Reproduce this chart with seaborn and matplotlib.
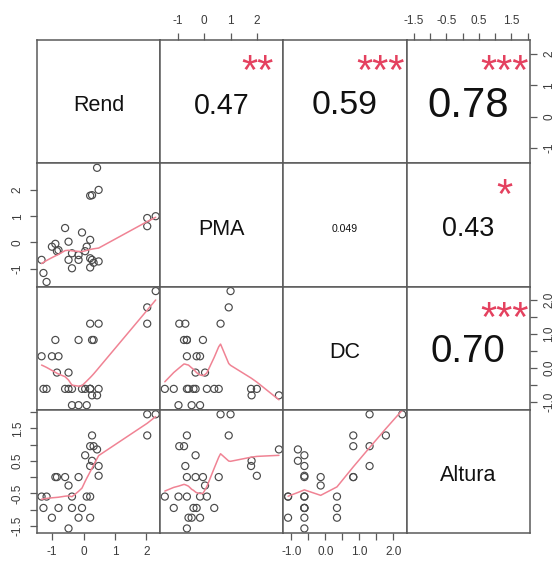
import numpy as np
import pandas as pd
import matplotlib
matplotlib.use("Agg")
import matplotlib.pyplot as plt
import seaborn as sns

# Standardised trait values, one entry per plot
variables = ["Rend", "PMA", "DC", "Altura"]
rend = [2.30, 2.03, 2.03, 0.27, 0.21, 0.32, 0.43, 0.05, 0.27, 0.48,
        0.21, -0.90, -0.85, -0.59, -0.16, 0.48, -0.48, -1.34, -1.18, -0.37,
        0.10, 0.21, -1.28, -0.80, -0.37, -0.05, -1.01, -0.16, 0.21, -0.48]
pma = [1.00, 0.62, 0.93, -0.66, -0.95, -0.77, 2.84, -0.33, 1.80, -0.72,
       1.78, -0.05, -0.33, 0.55, -0.66, 2.00, 0.03, -0.66, -1.50, -0.98,
       -0.16, 0.10, -1.16, -0.29, -0.41, 0.38, -0.16, -0.48, -0.60, -0.66]
dc = [2.26, 1.30, 1.78, 0.82, 1.30, 0.82, -0.81, -0.62, -0.81, 1.30,
      -0.62, 0.82, -0.14, -0.62, 0.82, -0.62, -0.14, 0.34, -0.62, -1.10,
      -1.10, -0.62, -0.62, 0.34, -0.62, -0.62, 0.34, -1.10, -0.62, -0.62]
altura = [1.93, 1.93, 1.28, 1.28, 0.95, 0.95, 0.85, 0.67, 0.50, 0.34,
          0.34, 0.00, 0.00, 0.00, 0.00, 0.04, -0.26, -0.60, -0.60, -0.60,
          -0.60, -0.60, -0.95, -0.95, -0.95, -0.95, -1.25, -1.25, -1.25, -1.58]

# Pearson correlations (upper triangle, row-wise) and significance codes
corr_pairs = [(0, 1), (0, 2), (0, 3), (1, 2), (1, 3), (2, 3)]
corr_values = [0.47, 0.59, 0.78, 0.049, 0.43, 0.70]
corr_labels = ["0.47", "0.59", "0.78", "0.049", "0.43", "0.70"]
corr_stars = ["**", "***", "***", "", "*", "***"]

# Axis ticks per variable
tick_values = {
    "Rend": [-1, 0, 1, 2],
    "PMA": [-1, 0, 1, 2],
    "DC": [-1.0, -0.5, 0.0, 0.5, 1.0, 1.5, 2.0],
    "Altura": [-1.5, -1.0, -0.5, 0.0, 0.5, 1.0, 1.5, 2.0],
}
tick_labels = {
    "Rend": ["-1", "0", "1", "2"],
    "PMA": ["-1", "0", "1", "2"],
    "DC": ["-1.0", "", "0.0", "", "1.0", "", "2.0"],
    "Altura": ["-1.5", "", "-0.5", "", "0.5", "", "1.5", ""],
}

df = pd.DataFrame({"Rend": rend, "PMA": pma, "DC": dc, "Altura": altura})


def lowess(x, y, f=2 / 3, iters=3):
    """Locally weighted scatterplot smoothing (Cleveland, as in R's lowess)."""
    order = np.argsort(x, kind="mergesort")
    x = np.asarray(x, float)[order]
    y = np.asarray(y, float)[order]
    n = len(x)
    ns = max(min(int(round(f * n)), n), 2)
    rw = np.ones(n)
    ys = np.zeros(n)
    xrange = x[-1] - x[0]
    for it in range(iters + 1):
        for i in range(n):
            d = np.abs(x - x[i])
            h = np.sort(d)[ns - 1]
            if h > 0:
                u = d / h
                w = np.where(d <= 0.999 * h, (1 - u ** 3) ** 3, 0.0)
                w = np.where(d <= 0.001 * h, 1.0, w)
            else:
                w = (d == 0).astype(float)
            w = w * rw
            if w.sum() <= 0:
                ys[i] = y[i]
                continue
            w = w / w.sum()
            if h > 0:
                a = np.sum(w * x)
                c = np.sum(w * (x - a) ** 2)
                if np.sqrt(c) > 0.001 * xrange:
                    b = (x[i] - a) / c
                    w = w * (b * (x - a) + 1)
            ys[i] = np.sum(w * y)
        if it == iters:
            break
        res = np.abs(y - ys)
        cmad = 6 * np.median(res)
        if cmad < 1e-7 * np.mean(np.abs(y)):
            break
        rw = np.where(res <= 0.999 * cmad, (1 - (res / cmad) ** 2) ** 2, 0.0)
        rw = np.where(res <= 0.001 * cmad, 1.0, rw)
    return x, ys


sns.set_theme(style="white")
plt.rcParams["font.family"] = ["Liberation Sans", "DejaVu Sans"]

frame_color = "#5a5a5a"
point_color = "#4a4a4a"
smooth_color = "#f08394"
star_color = "#e4415f"
tick_label_color = "#3a3a3a"
text_y = 0.465

W, H = 556, 563
fig, axes = plt.subplots(
    4, 4, figsize=(W / 100, H / 100), dpi=100,
    gridspec_kw=dict(left=37 / W, right=530 / W, bottom=1 - 533 / H,
                     top=1 - 40 / H, wspace=0, hspace=0),
)

lims = {}
for v in variables:
    lo, hi = df[v].min(), df[v].max()
    pad = 0.04 * (hi - lo)
    lims[v] = (lo - pad, hi + pad)

corr_lookup = {p: k for k, p in enumerate(corr_pairs)}

for i, vy in enumerate(variables):
    for j, vx in enumerate(variables):
        ax = axes[i][j]
        ax.set_xlim(lims[vx])
        ax.set_ylim(lims[vy])
        ax.set_xticks([])
        ax.set_yticks([])
        ax.set_xlabel("")
        ax.set_ylabel("")
        for sp in ax.spines.values():
            sp.set_color(frame_color)
            sp.set_linewidth(1.1)

        if i == j:
            ax.text(0.5, text_y, vx, transform=ax.transAxes, ha="center",
                    va="center", fontsize=15.5, color="#111111")
        elif i > j:
            sns.scatterplot(data=df, x=vx, y=vy, ax=ax, marker="o", s=26,
                            facecolor="none", edgecolor=point_color,
                            linewidth=0.85, legend=False)
            sx, sy = lowess(df[vx].values, df[vy].values)
            sns.lineplot(x=sx, y=sy, ax=ax, estimator=None, sort=False,
                         color=smooth_color, linewidth=1.1)
            ax.set_xlim(lims[vx])
            ax.set_ylim(lims[vy])
            ax.set_xlabel("")
            ax.set_ylabel("")
        else:
            k = corr_lookup[(i, j)]
            r = corr_values[k]
            ax.text(0.5, text_y, corr_labels[k], transform=ax.transAxes,
                    ha="center", va="center", fontsize=31 * r + 6,
                    color="#111111")
            if corr_stars[k]:
                ax.text(0.79, 0.73, corr_stars[k], transform=ax.transAxes,
                        ha="center", va="center", fontsize=30,
                        color=star_color, clip_on=False)

tick_kw = dict(length=5, width=0.9, color=frame_color, labelsize=8.5,
               labelcolor=tick_label_color, pad=4.5)

# x axes alternate between bottom (odd columns) and top (even columns)
for j, v in enumerate(variables):
    if j % 2 == 0:
        ax = axes[3][j]
        ax.set_xticks(tick_values[v])
        ax.set_xticklabels(tick_labels[v])
        ax.tick_params(axis="x", bottom=True, labelbottom=True, **tick_kw)
    else:
        ax = axes[0][j]
        ax.set_xticks(tick_values[v])
        ax.set_xticklabels(tick_labels[v])
        ax.tick_params(axis="x", top=True, labeltop=True, bottom=False,
                       labelbottom=False, **tick_kw)

# y axes alternate between right (odd rows) and left (even rows)
for i, v in enumerate(variables):
    if i % 2 == 0:
        ax = axes[i][3]
        ax.set_yticks(tick_values[v])
        ax.set_yticklabels(tick_labels[v], rotation=90, va="center")
        ax.tick_params(axis="y", right=True, labelright=True, left=False,
                       labelleft=False, **tick_kw)
    else:
        ax = axes[i][0]
        ax.set_yticks(tick_values[v])
        ax.set_yticklabels(tick_labels[v], rotation=90, va="center")
        ax.tick_params(axis="y", left=True, labelleft=True, **tick_kw)

fig.savefig("out.png", dpi=100)
